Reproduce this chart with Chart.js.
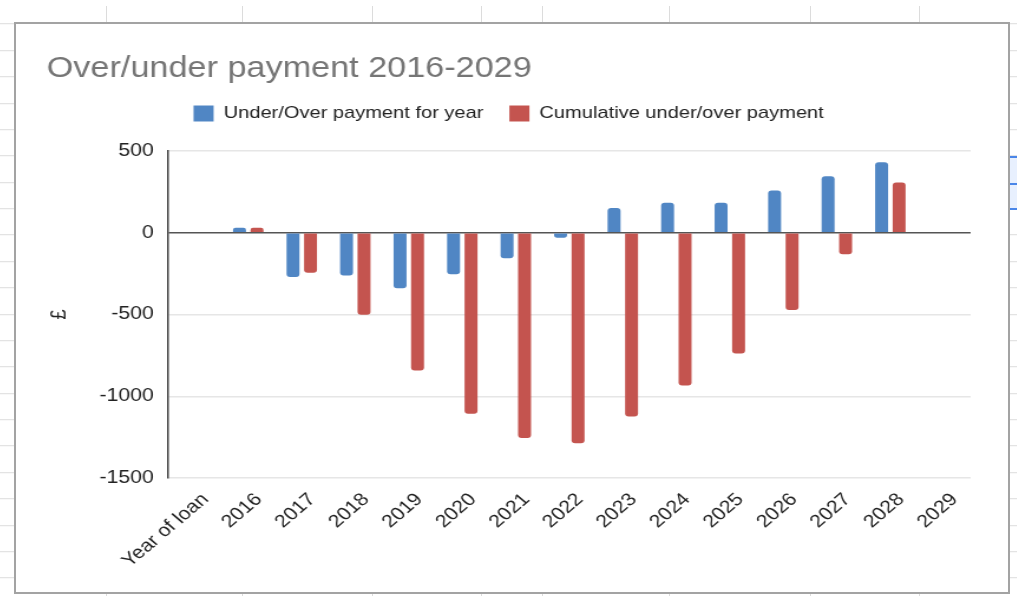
<!DOCTYPE html>
<html>
<head>
<meta charset="utf-8">
<script src="https://cdn.jsdelivr.net/npm/chart.js@4"></script>
<style>
  html, body { margin: 0; padding: 0; background: #fff; }
  body { width: 1017px; height: 596px; position: relative; overflow: hidden; }
  .rows {
    position: absolute; left: 0; top: 0; width: 1017px; height: 596px;
    background: repeating-linear-gradient(180deg, transparent 0, transparent 25.38px, #dcdcdc 25.38px, #dcdcdc 26.38px);
    background-position: 0 -1.8px;
  }
  .col { position: absolute; top: 6px; width: 1px; height: 590px; background: #dcdcdc; }
  .sel {
    position: absolute; left: 1010px; top: 156px; width: 10px; height: 50px;
    background: #e8f0fe; border-top: 2px solid #4a86e8; border-bottom: 2px solid #4a86e8;
  }
  .sel::after { content: ""; position: absolute; left: 0; right: 0; top: 25px; height: 2px; background: #4a86e8; }
  .frame {
    position: absolute; left: 14px; top: 22px; width: 996px; height: 572px;
    box-sizing: border-box; border: 2px solid #a3a3a3; background: #fff; overflow: hidden;
  }
  .stretch { position: absolute; left: 0; top: 0; transform: scaleX(1.18); transform-origin: 0 0; }
</style>
</head>
<body>
<div class="rows"></div>
<div class="col" style="left:106px"></div>
<div class="col" style="left:242px"></div>
<div class="col" style="left:372px"></div>
<div class="col" style="left:481px"></div>
<div class="col" style="left:542px"></div>
<div class="col" style="left:669px"></div>
<div class="col" style="left:810px"></div>
<div class="col" style="left:919px"></div>
<div class="sel"></div>
<div class="frame">
  <div class="stretch"><canvas id="payChart" width="841" height="568"></canvas></div>
</div>
<script>
Chart.defaults.font.family = "'Liberation Sans', Arial, sans-serif";
Chart.defaults.color = "#222";

const years = ["Year of loan", "2016", "2017", "2018", "2019", "2020", "2021", "2022",
  "2023", "2024", "2025", "2026", "2027", "2028", "2029"];
const yearlyPayment = [null, 30, -270, -262, -339, -254, -156, -30, 152, 183, 183, 258, 346, 431, null];
const cumulativePayment = [null, 30, -244, -502, -843, -1107, -1256, -1287, -1124, -935, -738, -473, -132, 307, null];
const yTicks = [500, 0, -500, -1000, -1500];

// keep a gap between the legend row and the plot
const legendGap = {
  id: "legendGap",
  beforeInit(chart) {
    if (!chart.legend) return;
    const fit = chart.legend.fit;
    chart.legend.fit = function () {
      fit.bind(chart.legend)();
      this.height += 19;
    };
  },
};

function initChart() {
  const ctx = document.getElementById("payChart");

  new Chart(ctx, {
    type: "bar",
    data: {
      labels: years,
      datasets: [
        {
          label: "Under/Over payment for year",
          data: yearlyPayment,
          backgroundColor: "#5086c4",
          borderRadius: 3,
          categoryPercentage: 0.654,
          barPercentage: 0.74,
        },
        {
          label: "Cumulative under/over payment",
          data: cumulativePayment,
          backgroundColor: "#c4544f",
          borderRadius: 3,
          categoryPercentage: 0.654,
          barPercentage: 0.74,
        },
      ],
    },
    plugins: [legendGap],
    options: {
      responsive: false,
      animation: false,
      layout: { padding: { left: 26, right: 32, top: 20, bottom: 0 } },
      plugins: {
        title: {
          display: true,
          text: "Over/under payment 2016-2029",
          align: "start",
          color: "#757575",
          font: { size: 29, weight: "normal", lineHeight: 1 },
          padding: { top: 10, bottom: 0 },
        },
        legend: {
          position: "top",
          labels: {
            boxWidth: 17,
            boxHeight: 16,
            padding: 22,
            color: "#222",
            font: { size: 17 },
          },
        },
        tooltip: { enabled: false },
      },
      scales: {
        x: {
          grid: { display: false },
          border: { display: false },
          ticks: {
            autoSkip: false,
            minRotation: 45,
            maxRotation: 45,
            padding: 3,
            labelOffset: 9,
            color: "#222",
            font: { size: 18 },
          },
          afterFit(scale) {
            scale.height = 114;
          },
        },
        y: {
          min: -1500,
          max: 500,
          afterBuildTicks(scale) {
            scale.ticks = yTicks.map((v) => ({ value: v }));
          },
          ticks: {
            padding: 12,
            color: "#222",
            font: { size: 18 },
            callback: (value) => String(value),
          },
          title: {
            display: true,
            text: "£",
            color: "#222",
            font: { size: 18 },
            padding: { top: 0, bottom: 23 },
          },
          border: { display: true, color: "#444", width: 1.5 },
          grid: {
            drawTicks: false,
            color: (c) => (c.tick && c.tick.value === 0 ? "#555" : "#e6e6e6"),
            lineWidth: 1.5,
          },
          afterFit(scale) {
            scale.width = 102.8;
          },
        },
      },
    },
  });
}

document.addEventListener("DOMContentLoaded", initChart);
</script>
</body>
</html>
